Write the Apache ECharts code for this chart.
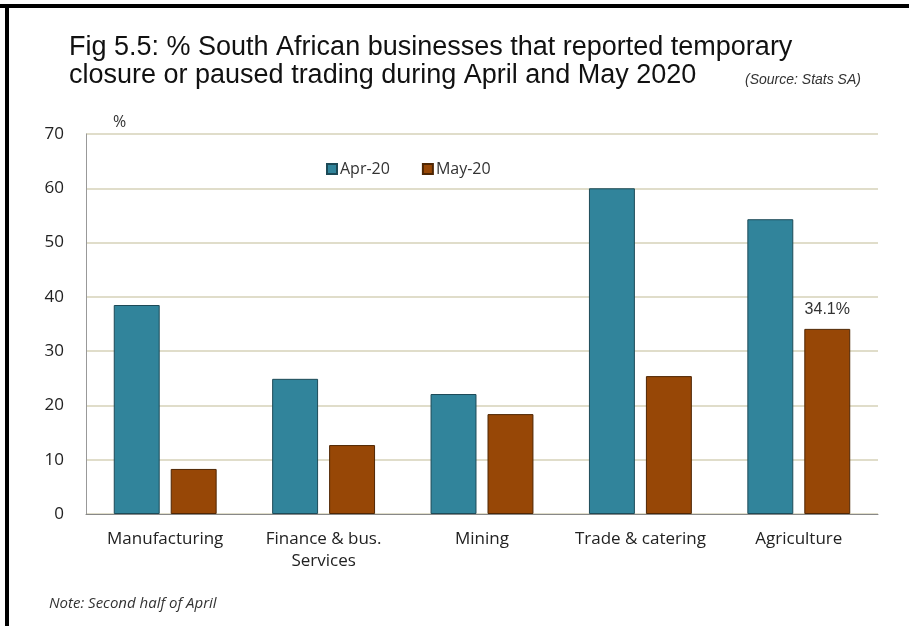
<!DOCTYPE html>
<html>
<head>
<meta charset="utf-8">
<script src="https://cdn.jsdelivr.net/npm/echarts@6/dist/echarts.min.js"></script>
<style>
  html, body { margin: 0; padding: 0; background: #fff; }
  #chart { width: 909px; height: 626px; }
</style>
</head>
<body>
<div id="chart"></div>
<script>
var sectors = ['Manufacturing', 'Finance & bus.\nServices', 'Mining', 'Trade & catering', 'Agriculture'];
var apr20 = [38.5, 24.9, 22.1, 60.0, 54.3];
var may20 = [8.3, 12.7, 18.4, 25.4, 34.1];
var yTicks = [0, 10, 20, 30, 40, 50, 60, 70];

var chart = echarts.init(document.getElementById('chart'));

var labelFont = "'Open Sans', 'DejaVu Sans', sans-serif";
var titleFont = "'Liberation Sans', Arial, sans-serif";

chart.setOption({
    backgroundColor: '#fff',
    animation: false,
    title: [
        {
            text: 'Fig 5.5: % South African businesses that reported temporary\nclosure or paused trading during April and May 2020',
            left: 64, top: 29,
            textStyle: { fontFamily: titleFont, fontSize: 27, fontWeight: 'normal', color: '#111', lineHeight: 28 }
        },
        {
            text: '(Source: Stats SA)',
            left: 740, top: 68,
            textStyle: { fontFamily: titleFont, fontSize: 14, fontStyle: 'italic', fontWeight: 'normal', color: '#333' }
        },
        {
            text: '%',
            left: 108, top: 109,
            textStyle: { fontFamily: labelFont, fontSize: 16, fontWeight: 'normal', color: '#333' }
        },
        {
            text: 'Note: Second half of April',
            left: 44, top: 591,
            textStyle: { fontFamily: labelFont, fontSize: 15, fontStyle: 'italic', fontWeight: 'normal', color: '#333' }
        }
    ],
    graphic: [
        { type: 'rect', shape: { x: 0, y: 4, width: 909, height: 4 }, style: { fill: '#000' } },
        { type: 'rect', shape: { x: 5, y: 4, width: 4, height: 622 }, style: { fill: '#000' } }
    ],
    legend: {
        data: ['Apr-20', 'May-20'],
        top: 156, left: 321,
        icon: 'rect',
        itemWidth: 10, itemHeight: 10, itemGap: 32,
        textStyle: { fontFamily: labelFont, fontSize: 16, color: '#333', padding: [0, 0, 0, -2] }
    },
    grid: { left: 86, right: 31, top: 134, bottom: 112 },
    xAxis: {
        type: 'category',
        data: sectors,
        axisLine: { lineStyle: { color: '#888', width: 1 } },
        axisTick: { show: false },
        axisLabel: { fontFamily: labelFont, fontSize: 17, color: '#222', margin: 14, lineHeight: 22, interval: 0 }
    },
    yAxis: {
        type: 'value',
        min: yTicks[0], max: yTicks[yTicks.length - 1], interval: 10,
        axisLine: { show: true, lineStyle: { color: '#999', width: 1 } },
        axisTick: { show: false },
        axisLabel: { fontFamily: labelFont, fontSize: 17, color: '#222', margin: 22 },
        splitLine: { lineStyle: { color: '#d6d2b8', width: 1.5 } }
    },
    series: [
        {
            name: 'Apr-20', type: 'bar', data: apr20,
            barWidth: '29%', barGap: '24%',
            itemStyle: { color: '#31849b', borderColor: '#1d4a57', borderWidth: 1 }
        },
        {
            name: 'May-20', type: 'bar', data: may20,
            barWidth: '29%',
            itemStyle: { color: '#974706', borderColor: '#4f2603', borderWidth: 1 },
            label: {
                show: true, position: 'top', distance: 11,
                fontFamily: titleFont, fontSize: 16, color: '#333',
                formatter: function (p) { return p.dataIndex === 4 ? p.value + '%' : ''; }
            }
        }
    ]
});
</script>
</body>
</html>
